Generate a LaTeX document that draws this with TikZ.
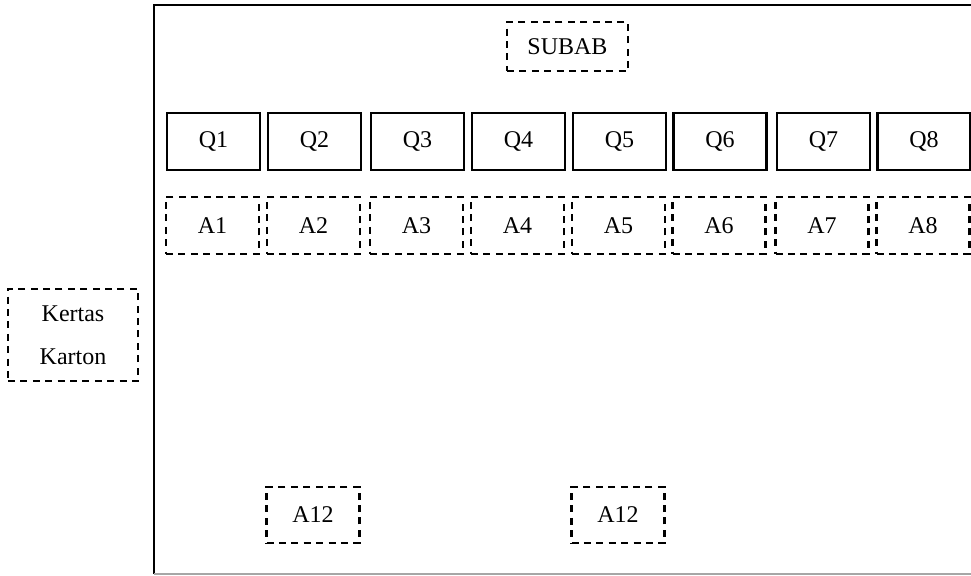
\documentclass[tikz,border=0pt]{standalone}
\usepackage{fontspec}
\setmainfont{Liberation Serif}
\begin{document}
\begin{tikzpicture}[x=0.5pt,y=-0.5pt,
  qbox/.style={draw, line width=1.3pt, minimum width=46.5pt, minimum height=28.5pt, inner sep=0pt, font=\fontsize{12}{14}\selectfont},
  abox/.style={draw, line width=1.2pt, dash pattern=on 3.5pt off 2.7pt, minimum width=46.5pt, minimum height=28.5pt, inner sep=0pt, font=\fontsize{12}{14}\selectfont}]
\useasboundingbox (0,0) rectangle (971,575);
% frame
\coordinate (fbl) at (154,574);
\coordinate (ftl) at (154,5);
\coordinate (ftr) at (971,5);
\coordinate (fbr) at (971,574);
\draw[line width=1.2pt] (fbl) -- (ftl) -- (ftr);
\draw[line width=0.6pt, gray!70] (fbl) -- (fbr);
% subab
\node[abox, minimum width=60.5pt, minimum height=24.5pt] (subab) at (567.5,46.5) {SUBAB};
% Q row
\node[qbox] (q1) at (213.5,141.5) {Q1};
\node[qbox] (q2) at (314.5,141.5) {Q2};
\node[qbox] (q3) at (417.5,141.5) {Q3};
\node[qbox] (q4) at (518.5,141.5) {Q4};
\node[qbox] (q5) at (619.5,141.5) {Q5};
\node[qbox] (q6) at (720,141.5) {Q6};
\node[qbox] (q7) at (823.5,141.5) {Q7};
\node[qbox] (q8) at (924,141.5) {Q8};
% A row
\node[abox] (a1) at (212.5,225.5) {A1};
\node[abox] (a2) at (313.5,225.5) {A2};
\node[abox] (a3) at (416.5,225.5) {A3};
\node[abox] (a4) at (517.5,225.5) {A4};
\node[abox] (a5) at (618.5,225.5) {A5};
\node[abox] (a6) at (719,225.5) {A6};
\node[abox] (a7) at (822,225.5) {A7};
\node[abox] (a8) at (923,225.5) {A8};
% A12
\node[abox, minimum height=28pt] (a12a) at (313,515) {A12};
\node[abox, minimum height=28pt] (a12b) at (618,515) {A12};
% Kertas Karton
\node[abox, minimum width=65pt, minimum height=46pt, align=center, font=\fontsize{12}{21.5}\selectfont] (kertas) at (73,335) {Kertas\\Karton};
\end{tikzpicture}
\end{document}
